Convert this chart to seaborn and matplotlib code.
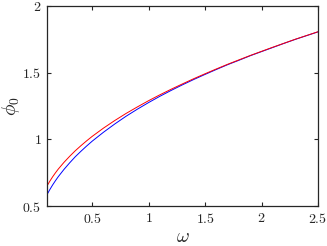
import pandas as pd
import matplotlib
matplotlib.use("Agg")
import matplotlib.pyplot as plt
import seaborn as sns

# values
omega = [0.1, 0.125, 0.15, 0.175, 0.2, 0.25, 0.3, 0.35, 0.4, 0.45, 0.5,
         0.6, 0.7, 0.8, 0.9, 1.0, 1.1, 1.2, 1.3, 1.4, 1.5, 1.6, 1.7, 1.8,
         1.9, 2.0, 2.1, 2.2, 2.3, 2.4, 2.5]
phi_red = [0.650, 0.686, 0.719, 0.749, 0.777, 0.827, 0.872, 0.914, 0.952, 0.988, 1.022,
           1.084, 1.141, 1.194, 1.243, 1.290, 1.334, 1.376, 1.416, 1.455, 1.492, 1.528,
           1.563, 1.596, 1.629, 1.660, 1.691, 1.721, 1.751, 1.779, 1.807]
phi_blue = [0.585, 0.623, 0.658, 0.690, 0.720, 0.774, 0.823, 0.869, 0.910, 0.949, 0.986,
            1.053, 1.115, 1.173, 1.226, 1.276, 1.323, 1.367, 1.409, 1.449, 1.487, 1.524,
            1.560, 1.593, 1.627, 1.658, 1.689, 1.720, 1.750, 1.778, 1.806]
xticks = [0.5, 1, 1.5, 2, 2.5]
yticks = [0.5, 1, 1.5, 2]

df = pd.concat([
    pd.DataFrame({"omega": omega, "phi": phi_blue, "curve": "blue"}),
    pd.DataFrame({"omega": omega, "phi": phi_red, "curve": "red"}),
])

sns.set_theme(style="ticks")
plt.rcParams["mathtext.fontset"] = "cm"
plt.rcParams["font.family"] = ["serif"]
plt.rcParams["font.serif"] = ["cmr10", "DejaVu Serif"]
plt.rcParams["axes.formatter.use_mathtext"] = True

fig = plt.figure(figsize=(3.27, 2.46), dpi=100)
ax = fig.add_axes([0.1437, 0.1626, 0.8288, 0.813])

sns.lineplot(data=df, x="omega", y="phi", hue="curve", sort=False,
             palette={"blue": "#0000ff", "red": "#ff0000"},
             linewidth=0.7, legend=False, ax=ax)

ax.set_xlim(0.1, 2.5)
ax.set_ylim(0.5, 2)
ax.set_xticks(xticks)
ax.set_yticks(yticks)
ax.set_xticklabels(["$%g$" % t for t in xticks])
ax.set_yticklabels(["$%g$" % t for t in yticks])
ax.tick_params(direction="in", length=3, width=0.8, top=True, right=True,
               labelsize=10, colors="#262626", pad=4)
for s in ax.spines.values():
    s.set_visible(True)
    s.set_linewidth(0.9)
    s.set_color("#262626")

ax.set_xlabel(r"$\omega$", fontsize=14, labelpad=2)
ax.set_ylabel(r"$\phi_0$", fontsize=14, labelpad=0)

fig.savefig("out.png", dpi=100)
